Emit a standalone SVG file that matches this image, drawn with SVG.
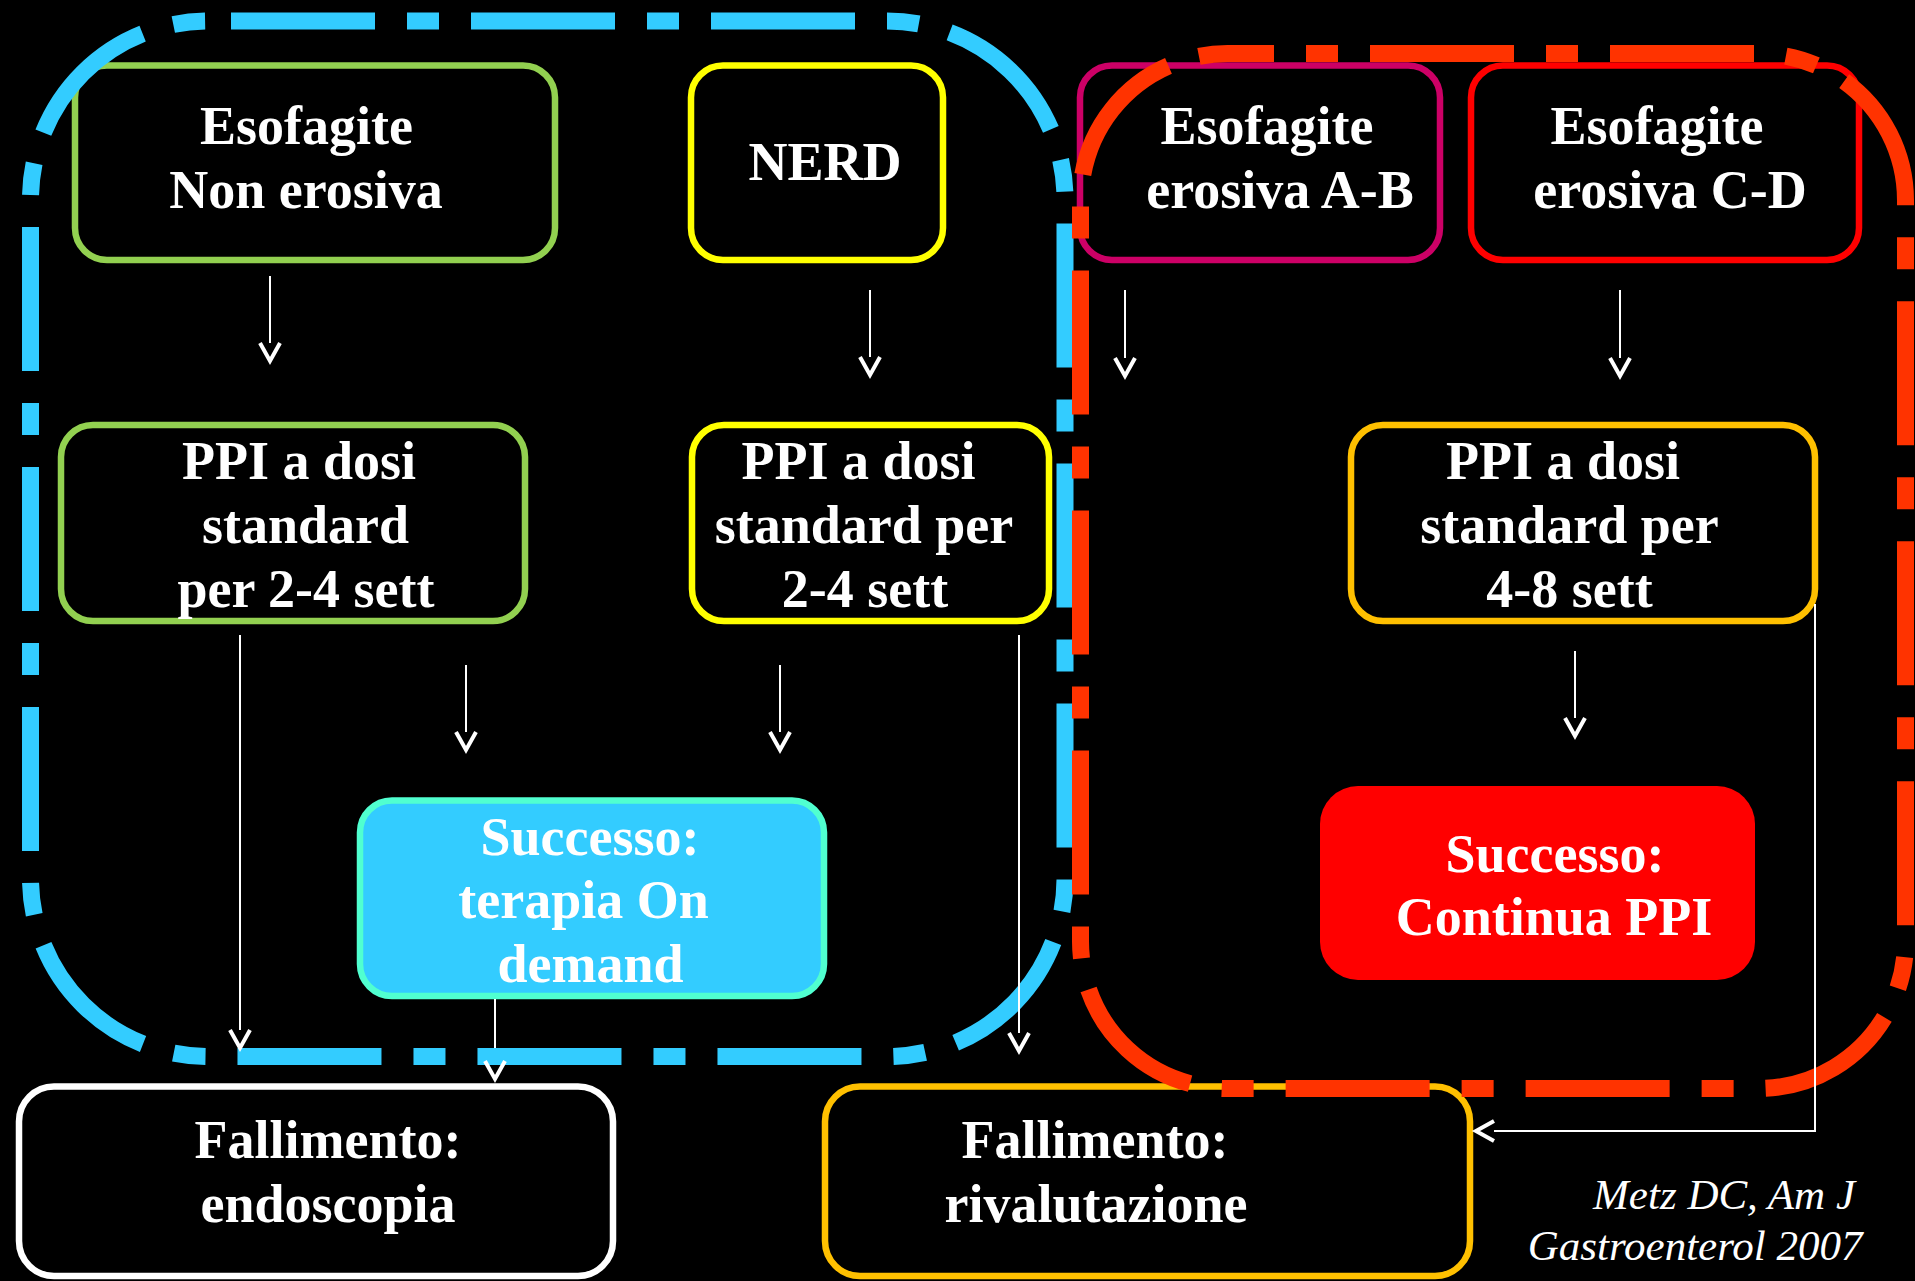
<svg xmlns="http://www.w3.org/2000/svg" width="1915" height="1281" viewBox="0 0 1915 1281">
<style>
.lbl{font-family:"Liberation Serif","Times New Roman",serif;font-weight:bold;font-size:54px;fill:#fff;text-anchor:middle}
.cite{font-family:"Liberation Serif","Times New Roman",serif;font-style:italic;font-size:43px;fill:#fff;text-anchor:end}
.box{fill:#000;stroke-width:6.5}
.cont{fill:none;stroke-width:17;stroke-dasharray:144 32 32 32}
.conn{fill:none;stroke:#fff;stroke-width:2;marker-end:url(#ah)}
</style>
<defs>
<marker id="ah" markerUnits="userSpaceOnUse" viewBox="-5 -20 40 40" markerWidth="40" markerHeight="40" refX="0" refY="0" orient="auto" overflow="visible">
<path d="M0,-10 L18,0 L0,10" fill="none" stroke="#fff" stroke-width="4" stroke-linejoin="miter"/>
</marker>
</defs>
<rect width="1915" height="1281" fill="#000"/>
<g id="nodes">
<g id="n-esofagite-non-erosiva"><rect class="box" x="75" y="65.5" width="480" height="194.5" rx="32" stroke="#92D050"/>
<text class="lbl" x="306.5" y="144">Esofagite</text><text class="lbl" x="306" y="207.5">Non erosiva</text></g>
<g id="n-nerd"><rect class="box" x="691" y="65.5" width="252" height="194.5" rx="32" stroke="#FFFF00"/>
<text class="lbl" x="825" y="180">NERD</text></g>
<g id="n-erosiva-ab"><rect class="box" x="1080" y="65.5" width="360" height="194.5" rx="32" stroke="#CC0066"/>
<text class="lbl" x="1267" y="144">Esofagite</text><text class="lbl" x="1280" y="207.5">erosiva A-B</text></g>
<g id="n-erosiva-cd"><rect class="box" x="1471" y="65.5" width="388" height="194.5" rx="32" stroke="#FF0000"/>
<text class="lbl" x="1657" y="144">Esofagite</text><text class="lbl" x="1670" y="207.5">erosiva C-D</text></g>
<g id="n-ppi-green"><rect class="box" x="61" y="425" width="464" height="196" rx="32" stroke="#92D050"/>
<text class="lbl" x="299" y="478.5">PPI a dosi</text><text class="lbl" x="305.5" y="542.5">standard</text><text class="lbl" x="306" y="606.5">per 2-4 sett</text></g>
<g id="n-ppi-yellow"><rect class="box" x="692" y="425" width="357" height="196" rx="32" stroke="#FFFF00"/>
<text class="lbl" x="858.5" y="478.5">PPI a dosi</text><text class="lbl" x="864" y="542.5">standard per</text><text class="lbl" x="865" y="606.5">2-4 sett</text></g>
<g id="n-ppi-orange"><rect class="box" x="1351" y="425" width="464" height="196" rx="32" stroke="#FFC000"/>
<text class="lbl" x="1563" y="478.5">PPI a dosi</text><text class="lbl" x="1569.5" y="542.5">standard per</text><text class="lbl" x="1569.5" y="606.5">4-8 sett</text></g>
<g id="n-successo-ondemand"><rect x="360" y="800.5" width="464" height="195.5" rx="32" fill="#33CCFF" stroke="#50FFD0" stroke-width="6.5"/>
<text class="lbl" x="590" y="855">Successo:</text><text class="lbl" x="583.5" y="918">terapia On</text><text class="lbl" x="590.5" y="982">demand</text></g>
<g id="n-successo-continua"><rect x="1320" y="786" width="435" height="194" rx="38" fill="#FF0000"/>
<text class="lbl" x="1555" y="872">Successo:</text><text class="lbl" x="1554" y="935">Continua PPI</text></g>
<g id="n-fallimento-endoscopia"><rect class="box" x="19" y="1086.5" width="594" height="189.5" rx="35" stroke="#FFFFFF"/>
<text class="lbl" x="328" y="1158">Fallimento:</text><text class="lbl" x="328" y="1221.5">endoscopia</text></g>
<g id="n-fallimento-rivalutazione"><rect class="box" x="825" y="1086.5" width="645" height="189.5" rx="35" stroke="#FFC000"/>
<text class="lbl" x="1095" y="1158">Fallimento:</text><text class="lbl" x="1096" y="1221.5">rivalutazione</text></g>
</g>
<g id="containers">
<rect class="cont" x="30.5" y="21" width="1034.5" height="1035.5" rx="178" stroke="#33CCFF" stroke-dashoffset="217.5"/>
<rect class="cont" x="1080.5" y="53.5" width="825" height="1035" rx="147" stroke="#FF3300" stroke-dashoffset="97.5"/>
</g>
<g id="connectors">
<path class="conn" d="M270,276 V343"/>
<path class="conn" d="M870,290 V357"/>
<path class="conn" d="M1125,290 V358"/>
<path class="conn" d="M1620,290 V358"/>
<path class="conn" d="M240,635 V1030"/>
<path class="conn" d="M466,665 V732"/>
<path class="conn" d="M780,665 V732"/>
<path class="conn" d="M1019,635 V1033"/>
<path class="conn" d="M495,999 V1061" stroke-dasharray="49 20"/>
<path class="conn" d="M1575,651 V718"/>
<path class="conn" d="M1815,604 V1131 H1494"/>
</g>
<g id="citation">
<text class="cite" x="1855" y="1209">Metz DC, Am J</text>
<text class="cite" x="1862.5" y="1260">Gastroenterol 2007</text>
</g>
</svg>
